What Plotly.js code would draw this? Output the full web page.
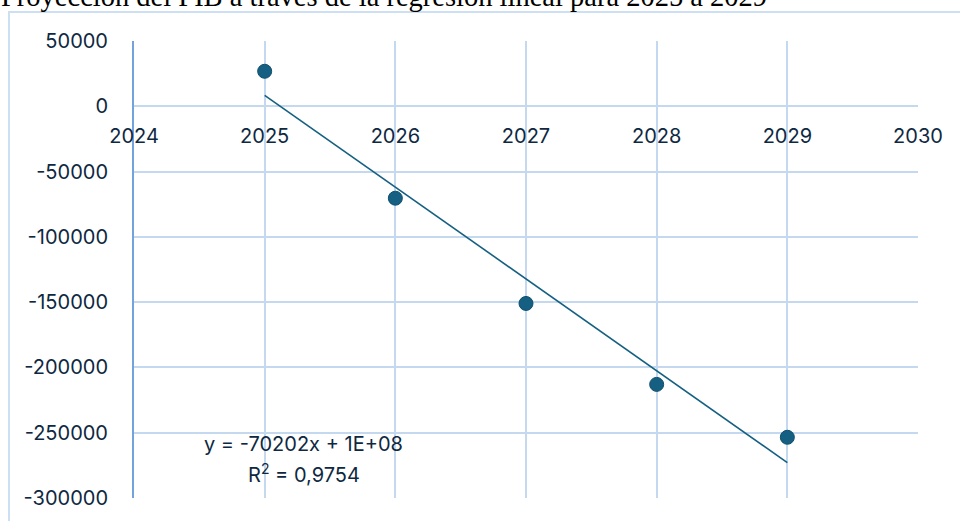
<!DOCTYPE html>
<html>
<head>
<meta charset="utf-8">
<script src="https://cdn.plot.ly/plotly-3.0.1.min.js"></script>
<style>html,body{margin:0;padding:0;background:#fff;}#chart{width:960px;height:521px;}</style>
</head>
<body>
<div id="chart"></div>
<script>
// Data
const years = [2025, 2026, 2027, 2028, 2029];
const pib = [26800, -70400, -151000, -213000, -253500];
const xTickVals = [2024, 2025, 2026, 2027, 2028, 2029, 2030];
const yTickVals = [50000, 0, -50000, -100000, -150000, -200000, -250000, -300000];
const yTickText = ["50000", "0", "-50000", "-100000", "-150000", "-200000", "-250000", "-300000"];
const titleText = "Proyección del PIB a través de la regresión lineal para 2025 a 2029";
const eqText = "y = -70202x + 1E+08";
const r2Text = "R<sup>2</sup> = 0,9754";

// Linear regression for trend line
const n = years.length;
const mx = years.reduce((a, b) => a + b, 0) / n;
const my = pib.reduce((a, b) => a + b, 0) / n;
let sxy = 0, sxx = 0;
for (let i = 0; i < n; i++) { sxy += (years[i] - mx) * (pib[i] - my); sxx += (years[i] - mx) ** 2; }
const slope = sxy / sxx, intercept = my - slope * mx;
const trendX = [years[0], years[n - 1]];
const trendY = trendX.map(x => slope * x + intercept);

const textColor = "#0E2841";
const accent = "#156082";
const gridColor = "#c4d8f0";
const yMin = -300000, yMax = 50000;
const fs = 20;

const traces = [
  { x: trendX, y: trendY, mode: "lines", line: { color: accent, width: 1.6 }, hoverinfo: "skip", showlegend: false },
  { x: years, y: pib, mode: "markers", marker: { color: accent, size: 14, line: { color: "#10506d", width: 1 } }, showlegend: false }
];

const layout = {
  width: 960, height: 521,
  margin: { l: 134, r: 42, t: 41, b: 23 },
  paper_bgcolor: "#ffffff", plot_bgcolor: "#ffffff",
  font: { family: "Inter, 'Open Sans', sans-serif", color: textColor, size: fs },
  xaxis: {
    range: [2024, 2030], tickvals: xTickVals, ticks: "",
    showgrid: true, gridcolor: gridColor, gridwidth: 2,
    zeroline: false, showline: false,
    anchor: "free", position: (0 - yMin) / (yMax - yMin),
    ticklabelstandoff: 16,
    tickfont: { size: fs, color: textColor }
  },
  yaxis: {
    range: [yMin, yMax], tickvals: yTickVals, ticktext: yTickText, ticks: "",
    showgrid: true, gridcolor: gridColor, gridwidth: 2,
    zeroline: true, zerolinecolor: gridColor, zerolinewidth: 2,
    showline: true, linecolor: "#74a3dc", linewidth: 2,
    ticklabelstandoff: 20,
    tickfont: { size: fs, color: textColor }
  },
  shapes: [
    { type: "rect", xref: "paper", yref: "paper",
      x0: (9 - 134) / 784, x1: 1.2, y0: -0.2, y1: 1 + (41 - 12) / 457,
      line: { color: "#cddff3", width: 2 }, fillcolor: "rgba(0,0,0,0)", layer: "below" }
  ],
  annotations: [
    { x: (0 - 134) / 784, y: 1 + (41 + 3) / 457, xref: "paper", yref: "paper", text: titleText, showarrow: false,
      xanchor: "left", yanchor: "middle", borderpad: 0,
      font: { family: "'Liberation Serif', 'DejaVu Serif', serif", size: 28.5, color: "#000000" } },
    { x: 2025.3, y: -258500, xref: "x", yref: "y", text: eqText, showarrow: false,
      xanchor: "center", yanchor: "middle", font: { size: fs, color: textColor } },
    { x: 2025.3, y: -281500, xref: "x", yref: "y", text: r2Text, showarrow: false,
      xanchor: "center", yanchor: "middle", font: { size: fs, color: textColor } }
  ]
};

Plotly.newPlot("chart", traces, layout, { displayModeBar: false, staticPlot: true });
</script>
</body>
</html>
